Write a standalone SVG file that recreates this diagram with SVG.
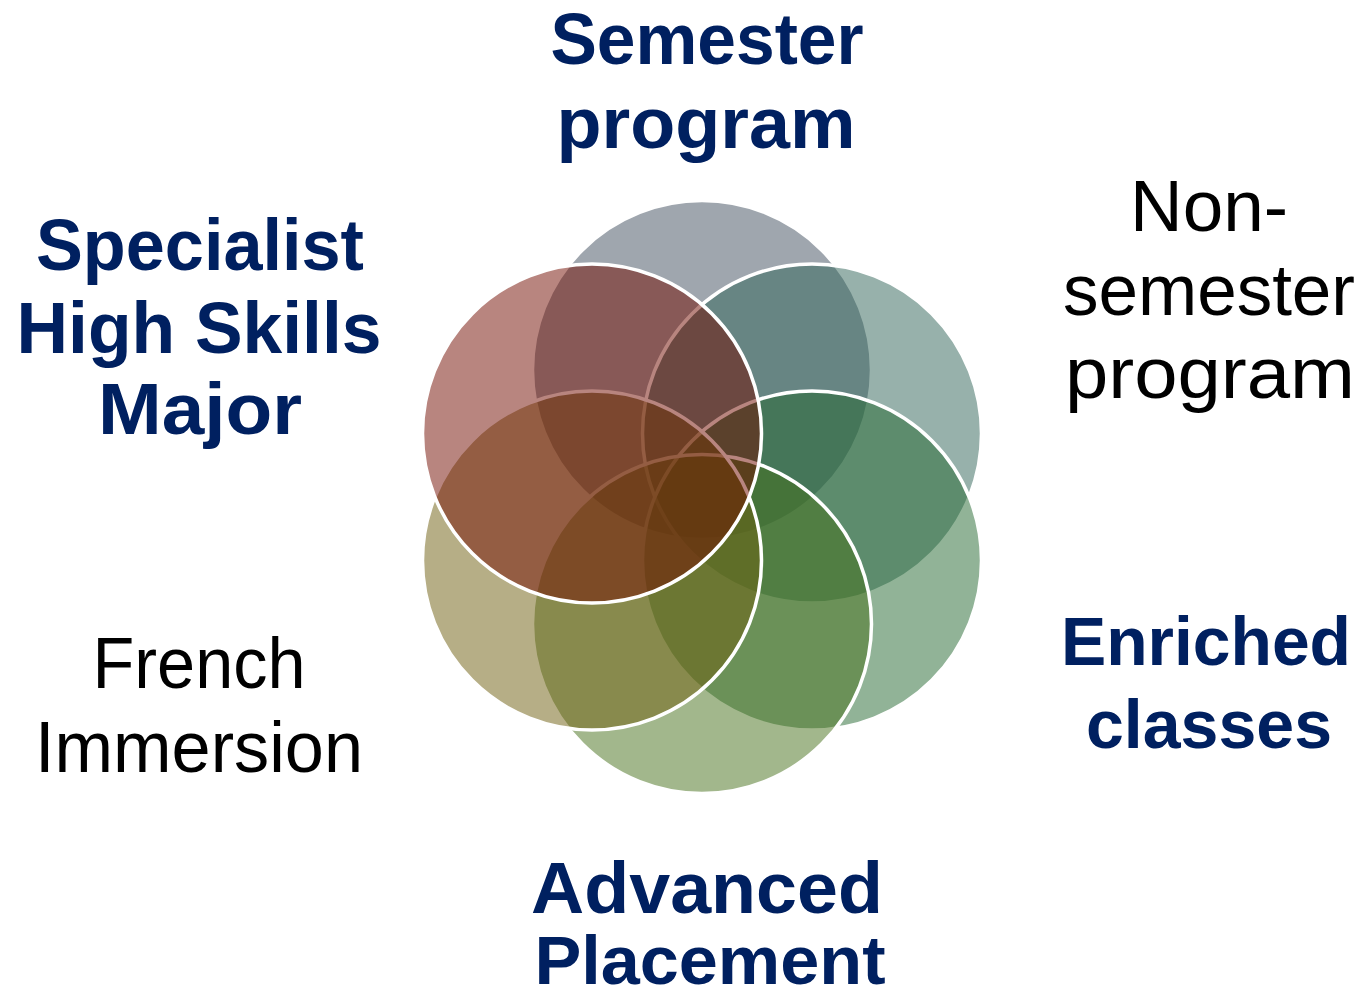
<svg xmlns="http://www.w3.org/2000/svg" width="1362" height="999" viewBox="0 0 1362 999">
<style>
.c{stroke:#fff;stroke-width:3.5;fill-opacity:0.5}
.b{font-family:"Liberation Sans",Arial,sans-serif;font-weight:bold;font-size:72px;fill:#002060;text-anchor:middle}
.r{font-family:"Liberation Sans",Arial,sans-serif;font-size:72px;fill:#000;text-anchor:middle}
.s{font-size:68px}
</style>
<rect width="1362" height="999" fill="#fff"/>
<g id="circles">
<circle id="c1" class="c" cx="702" cy="370" r="169.5" fill="#3f4d5d"/>
<circle id="c2" class="c" cx="812" cy="433.5" r="169.5" fill="#2f6357"/>
<circle id="c3" class="c" cx="812" cy="560.5" r="169.5" fill="#236730"/>
<circle id="c4" class="c" cx="702" cy="624" r="169.5" fill="#456f19"/>
<circle id="c5" class="c" cx="592" cy="560.5" r="169.5" fill="#6d5d0d"/>
<circle id="c6" class="c" cx="592" cy="433.5" r="169.5" fill="#710b00"/>
</g>
<g id="label-semester">
<text class="b" x="707" y="64" textLength="313" lengthAdjust="spacingAndGlyphs">Semester</text>
<text class="b" x="706" y="148" textLength="299" lengthAdjust="spacingAndGlyphs">program</text>
</g>
<g id="label-nonsemester">
<text class="r" x="1209" y="231" textLength="158" lengthAdjust="spacingAndGlyphs">Non-</text>
<text class="r" x="1209" y="315" textLength="292" lengthAdjust="spacingAndGlyphs">semester</text>
<text class="r" x="1210" y="398" textLength="290" lengthAdjust="spacingAndGlyphs">program</text>
</g>
<g id="label-enriched">
<text class="b s" x="1206" y="665" textLength="290" lengthAdjust="spacingAndGlyphs">Enriched</text>
<text class="b s" x="1209" y="748" textLength="246" lengthAdjust="spacingAndGlyphs">classes</text>
</g>
<g id="label-ap">
<text class="b" x="707" y="913" textLength="352" lengthAdjust="spacingAndGlyphs">Advanced</text>
<text class="b s" x="710" y="984" textLength="351" lengthAdjust="spacingAndGlyphs">Placement</text>
</g>
<g id="label-french">
<text class="r" x="199" y="688" textLength="213" lengthAdjust="spacingAndGlyphs">French</text>
<text class="r" x="199" y="772" textLength="328" lengthAdjust="spacingAndGlyphs">Immersion</text>
</g>
<g id="label-shsm">
<text class="b" x="200" y="270" textLength="328" lengthAdjust="spacingAndGlyphs">Specialist</text>
<text class="b" x="199" y="353" textLength="365" lengthAdjust="spacingAndGlyphs">High Skills</text>
<text class="b" x="200" y="434" textLength="204" lengthAdjust="spacingAndGlyphs">Major</text>
</g>
</svg>
